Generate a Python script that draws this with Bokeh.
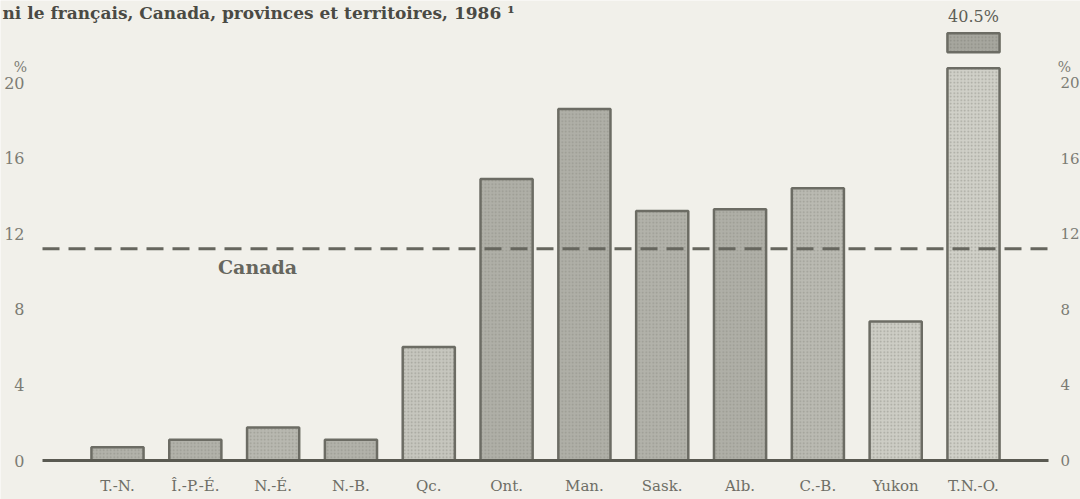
from bokeh.plotting import figure
from bokeh.models import Range1d, FixedTicker, LinearAxis, Label, ColumnDataSource
from bokeh.embed import file_html
from bokeh.resources import INLINE
from bokeh.core.properties import value

# ---- data ----
provinces = ["T.-N.", "Î.-P.-É.", "N.-É.", "N.-B.", "Qc.", "Ont.", "Man.",
             "Sask.", "Alb.", "C.-B.", "Yukon", "T.N.-O."]
percent = [0.7, 1.1, 1.75, 1.1, 6.0, 14.9, 18.6, 13.2, 13.3, 14.4, 7.35, 40.5]
canada = 11.2
y_ticks = [0, 4, 8, 12, 16, 20]
title_text = "ni le français, Canada, provinces et territoires, 1986 \u00b9"

# axis break (bars taller than the break are cut and topped by a cap)
BREAK = 20.75
CAP_LOW, CAP_HIGH = 21.6, 22.6

# ---- layout (data-space frame) ----
X0, X1 = -1.5035, 12.375
Y0, Y1 = -2.0635, 24.339
AX_L, AX_R = -0.9638, 11.964   # extent of grid / axes

# ---- styles ----
BG = "#f1f0ea"
INK = "#6c6c64"
fills = ["#b2b2aa", "#b2b2aa", "#b8b8b0", "#b2b2aa", "#c6c6be", "#afafa7",
         "#afafa7", "#b2b2aa", "#afafa7", "#babab2", "#cdcdc5", "#d0d0c8"]

idx = list(range(len(provinces)))
tops = [min(v, BREAK) for v in percent]
src = ColumnDataSource(dict(x=idx, top=tops, fill=fills))

over_x = [i for i, v in zip(idx, percent) if v > BREAK]
over_lab = [f"{v}%" for v in percent if v > BREAK]
cap_src = ColumnDataSource(dict(x=over_x, bottom=[CAP_LOW] * len(over_x),
                                top=[CAP_HIGH] * len(over_x), lab=over_lab))

p = figure(width=1080, height=499, output_backend="svg", toolbar_location=None,
           x_range=Range1d(X0, X1), y_range=Range1d(Y0, Y1),
           min_border=0, x_axis_type=None, y_axis_type=None)
p.background_fill_color = BG
p.border_fill_color = BG
p.outline_line_color = None

# grid
p.xgrid.grid_line_color = None
p.ygrid.ticker = FixedTicker(ticks=y_ticks)
p.ygrid.grid_line_color = "#86867e"
p.ygrid.grid_line_width = 1.5
p.ygrid.bounds = (AX_L, AX_R)

# bars
p.vbar(x="x", top="top", bottom=0, width=0.67, source=src, fill_color="fill",
       line_color=INK, line_width=2.5,
       hatch_pattern="dot", hatch_color="#8a8a82", hatch_scale=3.5,
       hatch_weight=1.3, hatch_alpha=0.6)
p.vbar(x="x", top="top", bottom="bottom", width=0.67, source=cap_src,
       fill_color="#a6a69e", line_color=INK, line_width=2.5,
       hatch_pattern="dot", hatch_color="#7e7e76", hatch_scale=3.5,
       hatch_weight=1.3, hatch_alpha=0.6)
p.text(x="x", y="top", text="lab", source=cap_src, text_align="center",
       text_baseline="bottom", y_offset=-7, text_font=value("DejaVu Serif"),
       text_font_size="16px", text_color="#5e5e56")

# reference lines
p.segment(x0=[AX_L], x1=[AX_R], y0=[canada], y1=[canada],
          line_color="#66665e", line_width=3, line_dash="17 9")
p.segment(x0=[AX_L], x1=[AX_R], y0=[0], y1=[0],
          line_color="#5a5a52", line_width=3)
p.add_layout(Label(x=1.80, y=canada, y_offset=-18, text="Canada",
                   text_align="center", text_baseline="middle",
                   text_font="DejaVu Serif", text_font_style="bold",
                   text_font_size="19px", text_color="#66665e"))

# axes (drawn at fixed locations inside the frame)
def style_y(ax, loc, standoff, size):
    ax.fixed_location = loc
    ax.ticker = FixedTicker(ticks=y_ticks)
    ax.axis_line_color = None
    ax.major_tick_line_color = None
    ax.minor_tick_line_color = None
    ax.major_label_text_font = "DejaVu Serif"
    ax.major_label_text_font_size = size
    ax.major_label_text_color = "#7c7c74"
    ax.major_label_standoff = standoff

left = LinearAxis()
style_y(left, AX_L, 12, "16px")
p.add_layout(left, "left")
right = LinearAxis()
style_y(right, AX_R, 6, "15px")
p.add_layout(right, "right")

xa = LinearAxis()
xa.fixed_location = 0
xa.ticker = FixedTicker(ticks=idx)
xa.major_label_overrides = {i: n for i, n in zip(idx, provinces)}
xa.axis_line_color = None
xa.major_tick_line_color = None
xa.minor_tick_line_color = None
xa.major_label_text_font = "DejaVu Serif"
xa.major_label_text_font_size = "15px"
xa.major_label_text_color = "#6e6e66"
xa.major_label_standoff = 10
p.add_layout(xa, "below")

# unit marks and title
for xx, off in ((AX_L, -22), (AX_R, 16)):
    p.add_layout(Label(x=xx, y=20, x_offset=off, y_offset=16, text="%",
                       text_align="center", text_baseline="middle",
                       text_font="DejaVu Serif", text_font_size="14px",
                       text_color="#7c7c74"))
p.add_layout(Label(x=X0, y=Y1, x_offset=2, y_offset=-12, text=title_text,
                   text_align="left", text_baseline="alphabetic",
                   text_font="DejaVu Serif", text_font_style="bold",
                   text_font_size="17px", text_color="#4a4a44"))

html = file_html(p, INLINE)
html = html.replace("<body>", f'<body style="background:{BG}">', 1)
open("out.html", "w").write(html)
